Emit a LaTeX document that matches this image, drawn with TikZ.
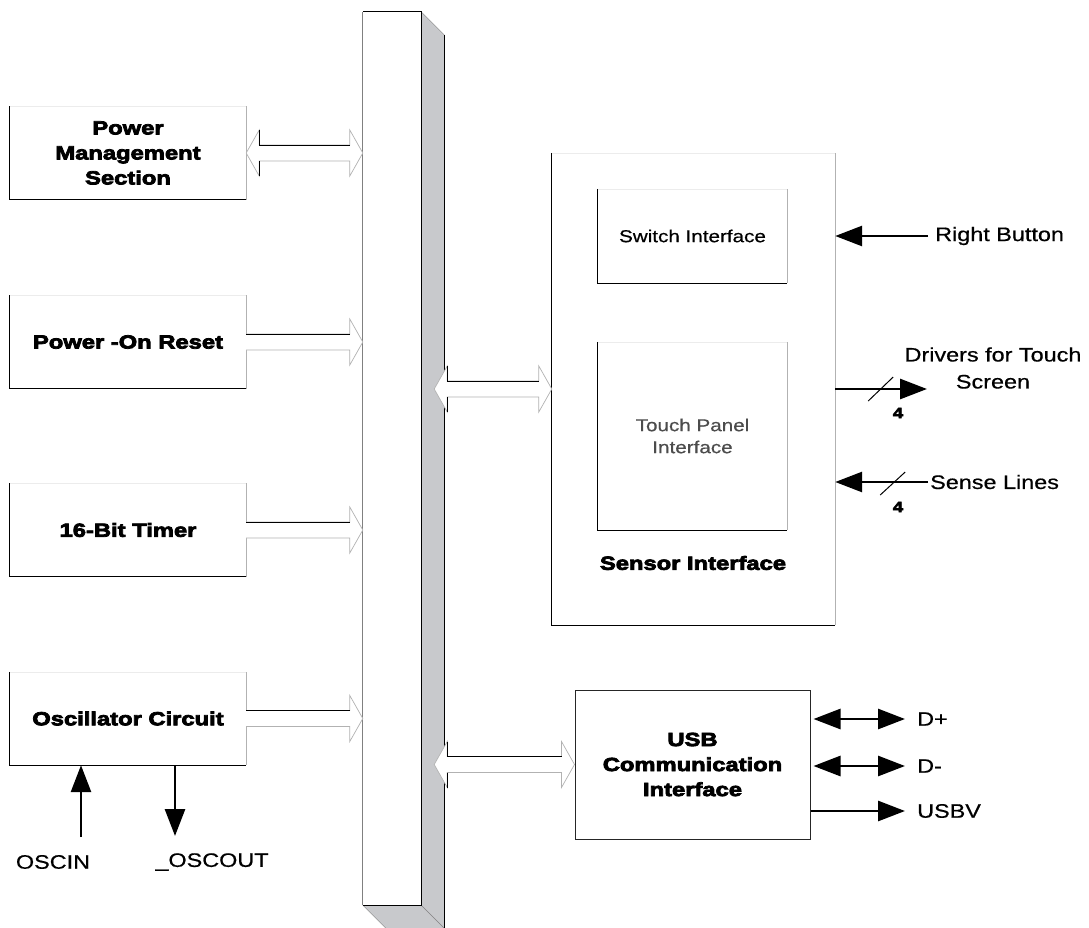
\documentclass[tikz,border=0pt]{standalone}
\usepackage{fontspec}
\setmainfont[FakeStretch=1.2,FakeBold=0.6]{Liberation Sans}
\newfontfamily\heavyfont[FakeStretch=1.25,FakeBold=4]{Liberation Sans Bold}
\usetikzlibrary{arrows.meta,positioning,calc}
\definecolor{busgray}{RGB}{200,201,204}

% wide hollow arrows into the bus
\newcommand{\busarrow}[2]{%
  \draw[hollow] let \p1=(#1), \p2=(#2) in
    (\x1,\y1+8pt) -- (\x2-13pt,\y1+8pt) -- (\x2-13pt,\y1+23pt) -- (\x2,\y1)
    -- (\x2-13pt,\y1-23pt) -- (\x2-13pt,\y1-8pt) -- (\x1,\y1-8pt);
  \draw[line width=0.8pt] let \p1=(#1), \p2=(#2) in
    (\x1,\y1+8pt) -- (\x2-13pt,\y1+8pt);
}
\newcommand{\bibusarrow}[2]{%
  \draw[hollow] let \p1=(#1), \p2=(#2) in
    (\x1+13pt,\y1+8pt) -- (\x2-13pt,\y1+8pt) -- (\x2-13pt,\y1+23pt) -- (\x2,\y1)
    -- (\x2-13pt,\y1-23pt) -- (\x2-13pt,\y1-8pt) -- (\x1+13pt,\y1-8pt)
    -- (\x1+13pt,\y1-23pt) -- (\x1,\y1) -- (\x1+13pt,\y1+23pt) -- cycle;
  \draw[line width=0.8pt] let \p1=(#1), \p2=(#2) in
    (\x1+13pt,\y1+23pt) -- (\x1+13pt,\y1+8pt) -- (\x2-13pt,\y1+8pt)
    (\x1+13pt,\y1-8pt) -- (\x1+13pt,\y1-23pt);
}

\begin{document}
\begin{tikzpicture}[x=1pt,y=-1pt,
    block/.style={minimum width=236pt, minimum height=93pt, inner sep=0pt,
                  align=center, font=\heavyfont\fontsize{19}{25}\selectfont},
    inner/.style={minimum width=189pt, inner sep=0pt, align=center,
                  font=\fontsize{17.2}{22}\selectfont},
    lbl/.style={inner sep=0pt, font=\fontsize{19.5}{27}\selectfont},
    hollow/.style={draw=gray!60, fill=white, line width=0.7pt},
    sig/.style={line width=2.8pt, -{Triangle[length=27pt,width=20pt]}},
    dsig/.style={line width=2.8pt, {Triangle[length=27pt,width=20pt]}-{Triangle[length=27pt,width=20pt]}},
    tick/.style={line width=1pt},
    count/.style={inner sep=0pt, font=\heavyfont\fontsize{15}{15}\selectfont}
  ]
  \useasboundingbox (0,0) rectangle (1089,928);

  % left blocks
  \node[block] (pm)  at (128,153)   {Power\\Management\\Section};
  \node[block] (por) at (128,342)   {Power -On Reset};
  \node[block] (tmr) at (128,530)   {16-Bit Timer};
  \node[block] (osc) at (128,718.5) {Oscillator Circuit};

  % bus
  \node[minimum width=58pt, minimum height=893pt, inner sep=0pt] (bus) at (392,458.5) {};
  \fill[busgray] (bus.north east) -- ++(23,23) -- ($(bus.south east)+(23,23)$) -- (bus.south east) -- cycle;
  \fill[busgray] (bus.south west) -- (bus.south east) -- ++(23,23) -- ($(bus.south west)+(23,23)$) -- cycle;
  \draw[gray] (bus.north east) -- ++(23,23);
  \draw[gray] (bus.south west) -- ++(23,23);
  \draw[gray] (bus.south east) -- ++(23,23);
  \draw[line width=1pt] ($(bus.north east)+(23,23)$) -- ($(bus.south east)+(23,23)$);
  \fill[white] (bus.south west) rectangle (bus.north east);
  \draw[line width=1pt] (bus.south west) -- (bus.south east) -- (bus.north east) -- (bus.north west);
  \draw[gray, line width=0.8pt] (bus.north west) -- (bus.south west);

  % sensor interface
  \node[minimum width=283pt, minimum height=472pt, inner sep=0pt] (sens) at (693.5,389) {};
  \node[inner, minimum height=94pt] (sw) at (692.5,236) {Switch Interface};
  \node[inner, minimum height=188pt, text=black!70] (tp) at (692.5,436) {Touch Panel\\Interface};
  \node[block, minimum width=0pt, minimum height=0pt] (sensl) at (693,563) {Sensor Interface};

  % usb
  \node[block, draw=black!85, line width=1pt, minimum width=235pt, minimum height=149pt]
    (usb) at (692.5,764.5) {USB\\Communication\\Interface};

  \foreach \b in {pm,por,tmr,osc,sens,sw,tp} {
    \draw[line width=1pt] (\b.north west) -- (\b.south west) -- (\b.south east);
    \draw[gray!60, line width=1pt] (\b.south east) -- (\b.north east);
    \draw[gray!15] (\b.north west) -- (\b.north east);
  }

  % bus connections
  \bibusarrow{pm.east}{pm.east -| bus.west}
  \busarrow{por.east}{por.east -| bus.west}
  \busarrow{tmr.east}{tmr.east -| bus.west}
  \busarrow{osc.east}{osc.east -| bus.west}
  \bibusarrow{$(bus.east |- sens.west)+(13,0)$}{sens.west}
  \bibusarrow{$(bus.east |- usb.west)+(13,0)$}{usb.west}

  % oscillator pins
  \node[lbl] (oscin)  at (53,862)  {OSCIN};
  \node[lbl] (oscout) at (212,862) {\_OSCOUT};
  \coordinate (inp)  at (81,837);
  \coordinate (outp) at (175,836);
  \draw[sig] (inp) -- (inp |- osc.south);
  \draw[sig] (outp |- osc.south) -- (outp);

  % sensor signals
  \node[lbl, anchor=west, inner xsep=7pt] (rb) at (928,236) {Right Button};
  \draw[sig] (rb.west) -- (rb.west -| sens.east);
  \node[lbl, align=center] (drvl) at (993,368) {Drivers for Touch\\Screen};
  \coordinate (drv) at (927,389);
  \draw[sig] (sens.east) -- (drv);
  \draw[tick] ($(sens.east)+(33,12)$) -- ++(25,-24);
  \node[count] (n4a) at (898,413) {4};
  \node[lbl, anchor=west, inner xsep=2pt] (sense) at (928,482) {Sense Lines};
  \draw[sig] (sense.west) -- (sense.west -| sens.east);
  \draw[tick] ($(sens.east |- sense.west)+(45,13)$) -- ++(25,-23);
  \node[count] (n4b) at (898,507) {4};

  % usb signals
  \node[lbl, anchor=west, inner xsep=12pt] (dp)   at (905,719) {D+};
  \node[lbl, anchor=west, inner xsep=12pt] (dm)   at (905,766) {D-};
  \node[lbl, anchor=west, inner xsep=12pt] (usbv) at (905,811) {USBV};
  \draw[dsig] ($(usb.east |- dp.west)+(3,0)$) -- (dp.west);
  \draw[dsig] ($(usb.east |- dm.west)+(3,0)$) -- (dm.west);
  \draw[sig] (usb.east |- usbv.west) -- (usbv.west);
\end{tikzpicture}
\end{document}
